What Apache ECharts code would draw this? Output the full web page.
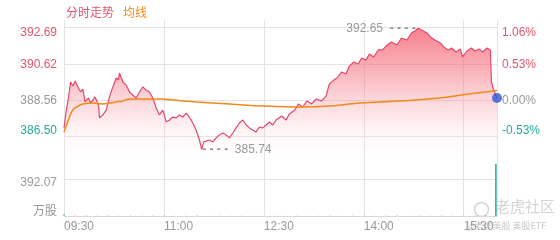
<!DOCTYPE html>
<html><head><meta charset="utf-8">
<script src="https://cdn.jsdelivr.net/npm/echarts@6/dist/echarts.min.js"></script>
<style>html,body{margin:0;padding:0;background:#fff}#c{width:560px;height:240px}</style>
</head><body><div id="c"></div>
<script>
// ---- data ----
const prevClose = 388.56;
const timeTicks = [0, 90, 180, 270, 360];
const timeLabels = ['09:30', '11:00', '12:30', '14:00', '15:30'];
const priceTicks = [386.50, 388.56, 390.62, 392.69];
const priceTickLabels = ['386.50', '388.56', '390.62', '392.69'];
const pctLabels = ['-0.53%', '0.00%', '0.53%', '1.06%'];
const volTicks = [0, 392.07];
const volTickLabels = ['万股', '392.07'];

const priceMinutes = [0,2,4,6,8,10,13,15,17,19,22,24,26,28,31,32,35,38,41,44,47,49,50,53,56,59,62,65,68,71,74,77,80,83,86,89,92,95,98,101,104,107,110,113,116,119,122,124,126,131,134,137,140,143,146,149,152,155,158,161,164,167,170,173,176,179,182,185,188,191,196,200,203,208,211,215,219,223,227,232,236,239,243,246,250,254,257,261,265,268,272,275,279,283,287,291,295,300,304,309,313,316,319,322,327,330,334,339,342,346,349,353,357,359,363,367,370,374,377,381,384,385,387,390];
const priceValues = [386.96,387.90,388.67,389.58,389.35,389.64,389.24,389.01,389.18,388.44,388.67,388.38,388.55,388.73,388.27,387.53,387.70,387.98,388.73,389.30,389.81,389.70,390.09,389.58,389.41,389.01,388.84,388.67,389.01,389.30,389.12,389.01,388.67,388.10,387.70,387.98,387.30,387.41,387.58,387.53,387.70,387.58,387.81,387.58,387.24,386.84,386.27,385.74,386.16,386.27,386.16,386.39,386.56,386.67,386.56,386.39,386.67,386.96,387.24,387.41,387.13,386.96,386.84,386.73,387.01,386.96,387.13,387.30,387.13,387.41,387.64,387.41,387.76,387.98,388.33,388.16,388.50,388.33,388.61,388.50,388.78,389.47,389.69,389.81,390.15,390.04,390.49,390.72,390.61,390.95,390.84,391.18,391.01,391.41,391.41,391.69,391.86,391.69,392.09,391.98,392.38,392.49,392.65,392.55,392.38,392.15,391.98,391.81,391.58,391.41,391.52,391.29,391.46,391.01,391.35,391.52,391.35,391.46,391.29,391.52,391.41,389.58,389.12,388.67];

const avgMinutes = [0,4,8,13,17,26,35,41,47,53,59,68,77,83,89,98,107,119,149,180,212,239,266,302,338,365,390];
const avgValues = [386.73,387.41,387.98,388.21,388.33,388.38,388.33,388.38,388.44,388.50,388.61,388.61,388.61,388.61,388.61,388.55,388.50,388.44,388.33,388.21,388.16,388.21,388.38,388.50,388.67,388.90,389.10];

const volMinutes = [0,10,20,30,40,50,60,70,80,90,100,110,120,130,140,150,160,170,180,190,200,210,220,230,240,250,260,270,280,290,300,310,320,330,340,350,360,370,380,389];
const volValues = [22,6,5,4,5,4,4,3,4,5,3,3,4,3,3,3,3,3,3,3,3,3,3,3,4,3,4,3,3,4,4,3,5,4,4,4,4,4,5,551];
const volUp = [0,1,0,1,0,1,0,0,1,0,1,0,0,1,0,1,0,1,1,0,1,0,1,1,0,1,1,0,1,1,0,1,1,1,0,1,0,1,0,0];

// ---- styles ----
const RED = '#e2566f', TEAL = '#27a99b', GRAY = '#999999', ORANGE = '#f08a1c', LINE = '#e5476a';
const FONT = 'Liberation Sans, Arial, Noto Sans CJK SC, sans-serif';
const gridLine = { show: true, lineStyle: { color: '#e4e4e4', width: 1 } };

const pricePairs = priceMinutes.map((m, i) => [m, priceValues[i]]);
const avgPairs = avgMinutes.map((m, i) => [m, avgValues[i]]);
const volData = volMinutes.map((m, i) => ({
  value: [m, volValues[i]],
  itemStyle: { color: (i === volMinutes.length - 1) ? TEAL : (volUp[i] ? 'rgba(240,120,140,0.6)' : 'rgba(40,170,155,0.6)') }
}));
const volMax = Math.max.apply(null, volValues);
const lastPrice = priceValues[priceValues.length - 1];
const lastMinute = priceMinutes[priceMinutes.length - 1];

function idxOf(arr, v) { let b = 0; for (let i = 0; i < arr.length; i++) if (Math.abs(arr[i] - v) < Math.abs(arr[b] - v)) b = i; return b; }
const styleKeys = ['bot', 'mid', 'up', 'top'];

const chart = echarts.init(document.getElementById('c'), null, { renderer: 'canvas' });
chart.setOption({
  animation: false,
  textStyle: { fontFamily: FONT },
  legend: {
    left: 55, top: 3, itemWidth: 0, itemHeight: 0, itemGap: 3,
    textStyle: { fontSize: 12, fontFamily: FONT },
    data: [
      { name: '分时走势', textStyle: { color: RED } },
      { name: '均线', textStyle: { color: ORANGE } }
    ]
  },
  grid: [
    { left: 64, right: 63, top: 20, height: 144 },
    { left: 64, right: 63, top: 164, height: 52 }
  ],
  xAxis: [0, 1].map(g => ({
    type: 'value', gridIndex: g, min: 0, max: 390,
    axisLine: { show: g === 1, lineStyle: { color: '#d8d8d8' } },
    axisTick: { show: false, customValues: timeTicks.concat([390]) },
    axisLabel: {
      show: g === 1, customValues: timeTicks, align: 'left', margin: 5,
      color: GRAY, fontSize: 12, fontFamily: FONT,
      formatter: v => timeLabels[idxOf(timeTicks, v)]
    },
    splitLine: gridLine
  })),
  yAxis: [
    {
      type: 'value', gridIndex: 0, min: 384.90, max: 393.12, position: 'left',
      axisLine: { show: false }, axisTick: { show: false, customValues: priceTicks },
      axisLabel: {
        customValues: priceTicks, margin: 7, fontSize: 12,
        formatter: v => { const i = idxOf(priceTicks, v); return '{' + styleKeys[i] + '|' + priceTickLabels[i] + '}'; },
        rich: {
          top: { color: RED, fontSize: 12, fontFamily: FONT, padding: [10, 0, 0, 0] },
          up: { color: RED, fontSize: 12, fontFamily: FONT, padding: [2, 0, 0, 0] },
          mid: { color: GRAY, fontSize: 12, fontFamily: FONT, padding: [1, 0, 0, 0] },
          bot: { color: TEAL, fontSize: 12, fontFamily: FONT, padding: [0, 0, 10, 0] }
        }
      },
      splitLine: gridLine
    },
    {
      type: 'value', gridIndex: 0, min: 384.90, max: 393.12, position: 'right',
      axisLine: { show: false }, axisTick: { show: false, customValues: priceTicks },
      axisLabel: {
        customValues: priceTicks, margin: 5, fontSize: 12,
        formatter: v => { const i = idxOf(priceTicks, v); return '{' + styleKeys[i] + '|' + pctLabels[i] + '}'; },
        rich: {
          top: { color: RED, fontSize: 12, fontFamily: FONT, padding: [10, 0, 0, 0] },
          up: { color: RED, fontSize: 12, fontFamily: FONT, padding: [1, 0, 0, 0] },
          mid: { color: GRAY, fontSize: 12, fontFamily: FONT, padding: [1, 0, 0, 0] },
          bot: { color: TEAL, fontSize: 12, fontFamily: FONT, padding: [0, 0, 10, 0] }
        }
      },
      splitLine: { show: false }
    },
    {
      type: 'value', gridIndex: 1, min: 0, max: volMax, position: 'left',
      axisLine: { show: false }, axisTick: { show: false, customValues: volTicks },
      axisLabel: {
        customValues: volTicks, margin: 7, fontSize: 12,
        formatter: v => { const i = idxOf(volTicks, v); return (i === 0 ? '{u|' : '{v|') + volTickLabels[i] + '}'; },
        rich: {
          u: { color: GRAY, fontSize: 12, fontFamily: 'Noto Sans CJK SC', padding: [0, 0, 12, 0] },
          v: { color: GRAY, fontSize: 12, fontFamily: FONT, padding: [8, 0, 0, 0] }
        }
      },
      splitLine: gridLine
    }
  ],
  series: [
    {
      name: '分时走势', type: 'line', xAxisIndex: 0, yAxisIndex: 0,
      data: pricePairs, symbol: 'none', smooth: false,
      lineStyle: { color: LINE, width: 1.2 },
      itemStyle: { color: LINE },
      areaStyle: {
        origin: 'start',
        color: new echarts.graphic.LinearGradient(0, 0, 0, 1, [
          { offset: 0, color: 'rgba(242,60,78,0.92)' },
          { offset: 0.3, color: 'rgba(244,95,110,0.7)' },
          { offset: 0.62, color: 'rgba(247,140,152,0.35)' },
          { offset: 1, color: 'rgba(255,255,255,0)' }
        ])
      },
      markPoint: {
        symbol: 'circle', symbolSize: 1,
        itemStyle: { color: 'rgba(0,0,0,0)' },
        data: [
          { type: 'min', valueIndex: 1, label: { position: 'right', distance: 0, formatter: p => '{d|- - - -}  {v|' + Number(p.value).toFixed(2) + '}' } },
          { type: 'max', valueIndex: 1, label: { position: 'left', distance: 2, formatter: p => '{v|' + Number(p.value).toFixed(2) + '}  {d|- - - -}' } }
        ],
        label: {
          show: true,
          rich: {
            d: { color: '#8c8c8c', fontSize: 12, fontWeight: 'bold', fontFamily: FONT },
            v: { color: GRAY, fontSize: 12, fontFamily: FONT }
          }
        }
      },
      z: 3
    },
    {
      name: '均线', type: 'line', xAxisIndex: 0, yAxisIndex: 0,
      data: avgPairs, symbol: 'none', smooth: true,
      lineStyle: { color: ORANGE, width: 1.5 }, itemStyle: { color: ORANGE }, z: 4
    },
    {
      type: 'scatter', xAxisIndex: 0, yAxisIndex: 0, clip: false,
      data: [[lastMinute, lastPrice]], symbolSize: 10,
      itemStyle: { color: '#2c58d6' }, z: 6
    },
    {
      type: 'bar', xAxisIndex: 1, yAxisIndex: 2, data: volData, barWidth: 1.5
    }
  ],
  graphic: [
    { type: 'circle', left: 472, top: 200, shape: { r: 7 }, style: { fill: 'none', stroke: '#d4d4d4', lineWidth: 1.5 }, silent: true },
    { type: 'text', left: 495, top: 199, style: { text: '老虎社区', fill: '#d4d4d4', font: '15px "Noto Sans CJK SC"' }, silent: true },
    { type: 'text', left: 466, top: 221, style: { text: '@老虎美股 美股ETF', fill: '#c8c8c8', font: '9px "Noto Sans CJK SC"' }, silent: true }
  ]
});
</script>
</body></html>
